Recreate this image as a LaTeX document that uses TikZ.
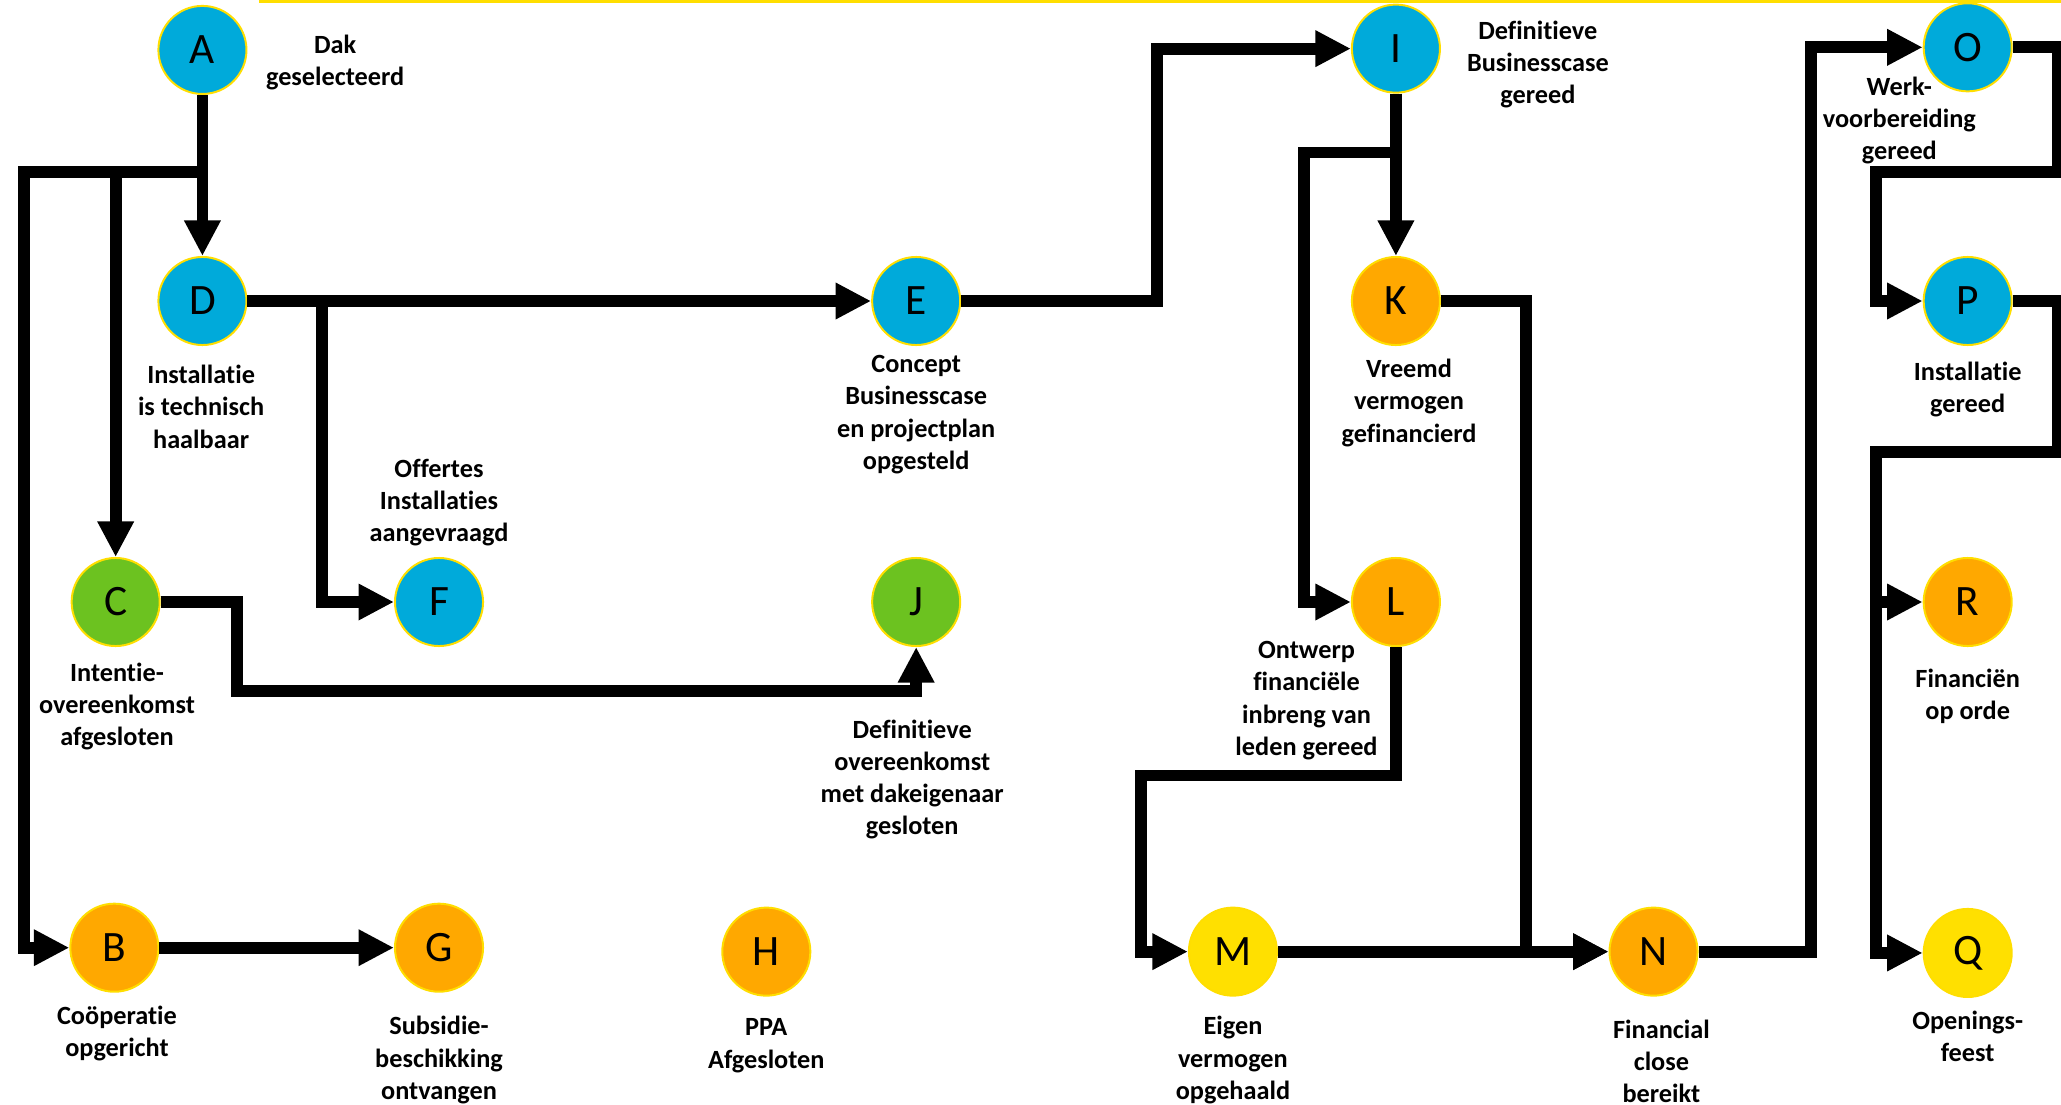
\documentclass[tikz,border=0pt]{standalone}
\usepackage{fontspec}
\setmainfont{Carlito}[Ligatures=NoCommon]
\usetikzlibrary{arrows.meta}
\definecolor{mblue}{RGB}{0,170,218}
\definecolor{mgreen}{RGB}{108,194,32}
\definecolor{morange}{RGB}{255,168,0}
\definecolor{myellow}{RGB}{255,224,0}
\definecolor{mborder}{RGB}{255,222,0}
\begin{document}
\begin{tikzpicture}[x=1pt,y=-1pt,
  ms/.style={circle, minimum size=67pt, inner sep=0pt, draw=mborder, line width=1.5pt, font=\fontsize{33}{33}\selectfont},
  lbl/.style={align=center, inner sep=0pt, font=\bfseries\fontsize{20}{24.5}\selectfont},
  conn/.style={line width=9pt, -{Triangle[length=27pt,width=26pt]}},
  bar/.style={line width=9pt}
]
\useasboundingbox[fill=white] (0,0) rectangle (1568,840);
\coordinate (ytl) at (197,1);
\coordinate (ytr) at (1568,1);
\draw[mborder, line width=2pt] (ytl) -- (ytr);

% nodes
\node[ms, fill=mblue] (A) at (154,38) {A};
\node[ms, fill=mblue] (D) at (154,229) {D};
\node[ms, fill=mblue] (E) at (697,229) {E};
\node[ms, fill=mblue] (I) at (1062,37) {I};
\node[ms, fill=morange] (K) at (1062,229) {K};
\node[ms, fill=mblue] (O) at (1497,36) {O};
\node[ms, fill=mblue] (P) at (1497,229) {P};
\node[ms, fill=mgreen] (C) at (88,458) {C};
\node[ms, fill=mblue] (F) at (334,458) {F};
\node[ms, fill=mgreen] (J) at (697,458) {J};
\node[ms, fill=morange] (L) at (1062,458) {L};
\node[ms, fill=morange] (R) at (1497,458) {R};
\node[ms, fill=morange] (B) at (87,721) {B};
\node[ms, fill=morange] (G) at (334,721) {G};
\node[ms, fill=morange] (H) at (583,724) {H};
\node[ms, fill=myellow] (M) at (938,724) {M};
\node[ms, fill=morange] (N) at (1258,724) {N};
\node[ms, fill=myellow] (Q) at (1497,725) {Q};

% labels
\node[lbl] (Al) at (255,47.5) {Dak\\geselecteerd};
\node[lbl] (Dl) at (153,309.5) {Installatie\\is technisch\\haalbaar};
\node[lbl] (El) at (697,315.5) {Concept\\Businesscase\\en projectplan\\opgesteld};
\node[lbl] (Fl) at (334,382.5) {Offertes\\Installaties\\aangevraagd};
\node[lbl] (Cl) at (89,537.5) {Intentie-\\overeenkomst\\afgesloten};
\node[lbl] (Jl) at (694,593) {Definitieve\\overeenkomst\\met dakeigenaar\\gesloten};
\node[lbl] (Il) at (1170,49) {Definitieve\\Businesscase\\gereed};
\node[lbl] (Kl) at (1072,306.5) {Vreemd\\vermogen\\gefinancierd};
\node[lbl] (Ll) at (994,533) {Ontwerp\\financiële\\inbreng van\\leden gereed};
\node[lbl] (Ol) at (1445,91.5) {Werk-\\voorbereiding\\gereed};
\node[lbl] (Pl) at (1497,296.5) {Installatie\\gereed};
\node[lbl] (Rl) at (1497,529.5) {Financiën\\op orde};
\node[lbl] (Bl) at (89,786.5) {Coöperatie\\opgericht};
\node[lbl] (Gl) at (334,806.5) {Subsidie-\\beschikking\\ontvangen};
\node[lbl] (Hl) at (583,795.5) {PPA\\Afgesloten};
\node[lbl] (Ml) at (938,806.5) {Eigen\\vermogen\\opgehaald};
\node[lbl] (Nl) at (1264,807.5) {Financial\\close\\bereikt};
\node[lbl] (Ql) at (1497,788.5) {Openings-\\feest};

% connectors
\draw[conn] (A) -- (D);
\draw[conn] (A.south) -- (154,131) -| (C);
\draw[conn] (A.south) -- (154,131) -- (18,131) -- (18,721) -- (B);
\draw[conn] (B) -- (G);
\draw[conn] (D) -- (E);
\coordinate (dF) at (245,229);
\draw[conn] (dF) |- (F);
\draw[conn] (C) -- (180,458) -- (180,526) -| (J);
\draw[conn] (E) -- (880,229) -- (880,37) -- (I);
\draw[conn] (I) -- (K);
\coordinate (iL) at (1062,116);
\draw[conn] (iL) -- (992,116) -- (992,458) -- (L);
\draw[conn] (K) -- (1161,229) -- (1161,724) -- (N);
\draw[conn] (L) -- (1062,590) -- (868,590) -- (868,724) -- (M);
\draw[conn] (M) -- (N);
\draw[conn] (N) -- (1378,724) -- (1378,36) -- (O);
\draw[conn] (O) -- (1566,36) -- (1566,131) -- (1427,131) -- (1427,229) -- (P);
\draw[conn] (P) -- (1566,229) -- (1566,344) -- (1427,344) -- (1427,725) -- (Q);
\coordinate (pR) at (1427,440);
\draw[conn] (pR) |- (R);
\end{tikzpicture}
\end{document}
